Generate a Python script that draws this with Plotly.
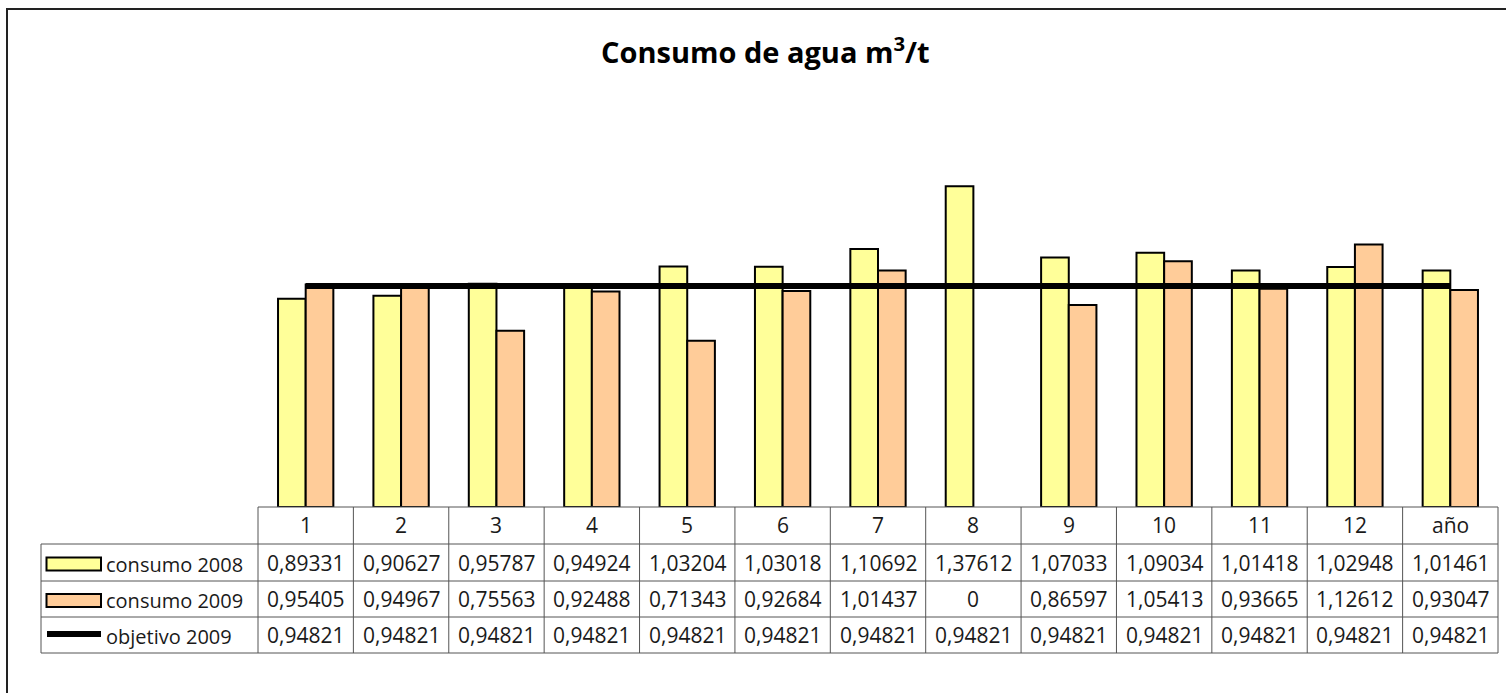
import plotly.graph_objects as go

# Data
categories = ["1", "2", "3", "4", "5", "6", "7", "8", "9", "10", "11", "12", "año"]
consumo_2008 = [0.89331, 0.90627, 0.95787, 0.94924, 1.03204, 1.03018, 1.10692,
                1.37612, 1.07033, 1.09034, 1.01418, 1.02948, 1.01461]
consumo_2009 = [0.95405, 0.94967, 0.75563, 0.92488, 0.71343, 0.92684, 1.01437,
                0, 0.86597, 1.05413, 0.93665, 1.12612, 0.93047]
objetivo_2009 = [0.94821] * 13
series_names = ["consumo 2008", "consumo 2009", "objetivo 2009"]

COL_2008 = "#FFFF99"
COL_2009 = "#FFCC99"

W, H = 1506, 693
L, R, T, B = 258, 1498, 134, 507  # plot area in pixels

def px(x):
    return (x - L) / (R - L)

def py(y):
    return (B - y) / (B - T)

def fmt(v):
    s = f"{v:.5f}".rstrip("0").rstrip(".") if v != 0 else "0"
    return s.replace(".", ",")

def outline(vals):
    # no outline on empty bars
    return [2 if v > 0 else 0 for v in vals]

xs = list(range(len(categories)))

fig = go.Figure()
fig.add_trace(go.Bar(x=xs, y=consumo_2008, name=series_names[0],
                     marker=dict(color=COL_2008,
                                 line=dict(color="black", width=outline(consumo_2008)))))
fig.add_trace(go.Bar(x=xs, y=consumo_2009, name=series_names[1],
                     marker=dict(color=COL_2009,
                                 line=dict(color="black", width=outline(consumo_2009)))))
fig.add_trace(go.Scatter(x=xs, y=objetivo_2009, name=series_names[2], mode="lines",
                         line=dict(color="black", width=6)))

shapes = []
annotations = []

# Outer chart frame
shapes.append(dict(type="rect", xref="paper", yref="paper",
                   x0=px(7), x1=px(1515), y0=py(9), y1=py(705),
                   line=dict(color="#222", width=2), fillcolor="rgba(0,0,0,0)"))

# Data table grid
grid = dict(color="#555", width=1)
row_y = [507, 544, 581, 617, 653]
col_w = (R - L) / len(categories)
# horizontal lines
shapes.append(dict(type="line", xref="paper", yref="paper",
                   x0=px(L), x1=px(R), y0=py(row_y[0]), y1=py(row_y[0]), line=grid))
for y in row_y[1:]:
    shapes.append(dict(type="line", xref="paper", yref="paper",
                       x0=px(41), x1=px(R), y0=py(y), y1=py(y), line=grid))
# vertical lines
shapes.append(dict(type="line", xref="paper", yref="paper",
                   x0=px(41), x1=px(41), y0=py(row_y[1]), y1=py(row_y[4]), line=grid))
for i in range(len(categories) + 1):
    x = L + i * col_w
    shapes.append(dict(type="line", xref="paper", yref="paper",
                       x0=px(x), x1=px(x), y0=py(row_y[0]), y1=py(row_y[4]), line=grid))

font_tbl = dict(family="Open Sans", size=21, color="#1a1a1a")
font_leg = dict(family="Open Sans", size=20, color="#1a1a1a")

# header labels
for i, c in enumerate(categories):
    annotations.append(dict(x=i, xref="x", y=py((row_y[0] + row_y[1]) / 2 - 1), yref="paper",
                            text=c, showarrow=False, font=font_tbl,
                            xanchor="center", yanchor="middle"))

# value cells
for r, vals in enumerate([consumo_2008, consumo_2009, objetivo_2009]):
    yc = (row_y[r + 1] + row_y[r + 2]) / 2
    for i, v in enumerate(vals):
        annotations.append(dict(x=i, xref="x", y=py(yc), yref="paper",
                                text=fmt(v), showarrow=False, font=font_tbl,
                                xanchor="center", yanchor="middle"))
    # legend label
    annotations.append(dict(x=px(104), xref="paper", y=py(yc + 1.5), yref="paper",
                            text=series_names[r], showarrow=False, font=font_leg,
                            xanchor="left", yanchor="middle"))

# legend keys
for r, col in enumerate([COL_2008, COL_2009]):
    yc = (row_y[r + 1] + row_y[r + 2]) / 2 + 1.5
    shapes.append(dict(type="rect", xref="paper", yref="paper",
                       x0=px(46.5), x1=px(101), y0=py(yc - 6.5), y1=py(yc + 6.5),
                       fillcolor=col, line=dict(color="black", width=2)))
yc = (row_y[3] + row_y[4]) / 2 - 1
shapes.append(dict(type="line", xref="paper", yref="paper",
                   x0=px(47), x1=px(101), y0=py(yc), y1=py(yc),
                   line=dict(color="black", width=6)))

# title
annotations.append(dict(x=px(765), xref="paper", y=py(50), yref="paper",
                        text="<b>Consumo de agua m<sup>3</sup>/t</b>", showarrow=False,
                        font=dict(family="Open Sans", size=29, color="black"),
                        xanchor="center", yanchor="middle"))

fig.update_layout(
    width=W, height=H,
    margin=dict(l=L, r=W - R, t=T, b=H - B, pad=0),
    paper_bgcolor="white", plot_bgcolor="white",
    barmode="group", bargap=0.42, bargroupgap=0,
    showlegend=False,
    xaxis=dict(range=[-0.5, len(categories) - 0.5], showticklabels=False,
               showgrid=False, zeroline=False, showline=False, ticks=""),
    yaxis=dict(range=[0, 1.6], showticklabels=False, showgrid=False,
               zeroline=False, showline=False, ticks=""),
    shapes=shapes, annotations=annotations,
)

fig.write_html("out.html")
